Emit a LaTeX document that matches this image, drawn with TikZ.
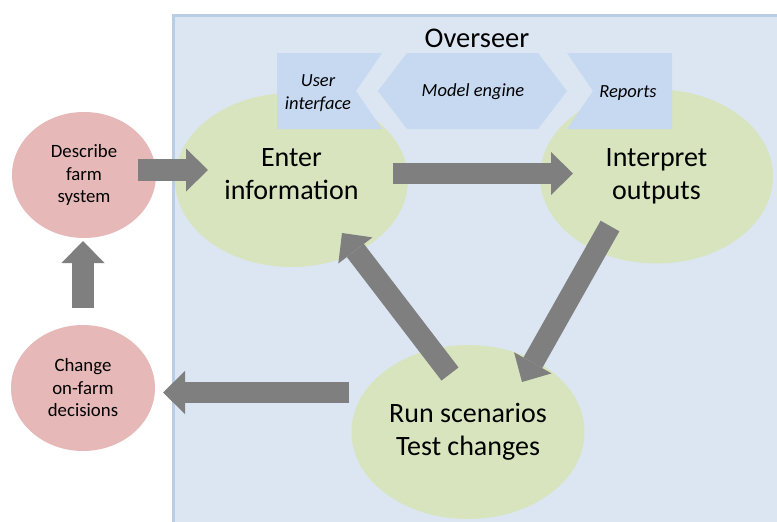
\documentclass[tikz,border=0pt]{standalone}
\usepackage{fontspec}
\setmainfont{Carlito}
\usetikzlibrary{shapes.geometric,arrows.meta,calc}
\definecolor{oversbg}{HTML}{DCE6F2}
\definecolor{oversline}{HTML}{B9CDE5}
\definecolor{stepgreen}{HTML}{D7E4BD}
\definecolor{farmpink}{HTML}{E6B9B8}
\definecolor{partblue}{HTML}{C6D9F1}
\definecolor{arrowgray}{HTML}{7F7F7F}

\begin{document}
\begin{tikzpicture}[x=1pt,y=-1pt,
    bigstep/.style={ellipse,fill=stepgreen,inner sep=0pt,minimum width=233pt,minimum height=174pt,align=center,font=\fontsize{28}{33}\selectfont},
    farmstep/.style={ellipse,fill=farmpink,inner sep=0pt,minimum width=144pt,minimum height=126pt,align=center,font=\fontsize{18.8}{22.5}\selectfont},
    partlabel/.style={align=center,inner sep=0pt,font=\fontsize{18.5}{23}\selectfont\itshape},
    bigarrow/.style={color=arrowgray,line width=21.5pt,-{Triangle[length=22pt,width=43pt,line width=0pt]}}]
    \useasboundingbox (0,0) rectangle (777,522);
    \fill[white] (0,0) rectangle (777,522);
    \draw[fill=oversbg,draw=oversline,line width=2.5pt] (173.5,15.5) rectangle (790,540);
    \node (overseer) at (477,38) [font=\fontsize{28.5}{33}\selectfont] {Overseer};
    \node[bigstep,text depth=12pt] (enter) at (291.5,180) {Enter\\information};
    \node[bigstep] (interp) at (656.5,176.5) {Interpret\\outputs};
    \node[bigstep] (run) at (468,432) {Run scenarios\\Test changes};
    \node[farmstep] (describe) at (84,175) {Describe\\farm\\system};
    \node[farmstep] (change) at (83,388) {Change\\on-farm\\decisions};
    \fill[partblue] (277,53)--(382,53)--(356,91)--(382,129)--(277,129)--cycle;
    \fill[partblue] (378,91)--(407,53)--(538,53)--(567,91)--(538,129)--(407,129)--cycle;
    \fill[partblue] (567,53)--(672,53)--(672,129)--(567,129)--(593,91)--cycle;
    \node[partlabel] (userif) at (318,93.5) {User\\interface};
    \node[partlabel] (engine) at (473,91.5) {Model engine};
    \node[partlabel] (reports) at (628,93) {Reports};
    \draw[bigarrow] ($(describe)+(54,-5)$)--($(enter)+(-83.5,-10)$);
    \draw[bigarrow] ($(enter)+(101.5,-6.5)$)--($(interp)+(-83.5,-3)$);
    \draw[bigarrow] ($(interp)+(-46.5,49.5)$)--($(run)+(54,-50)$);
    \draw[bigarrow] ($(run)+(-18,-58)$)--($(enter)+(50.5,53)$);
    \draw[bigarrow] ($(run)+(-119,-39.5)$)--($(change)+(80,4.5)$);
    \draw[bigarrow] ($(change)+(0,-80)$)--($(describe)+(-1,66)$);
\end{tikzpicture}
\end{document}
